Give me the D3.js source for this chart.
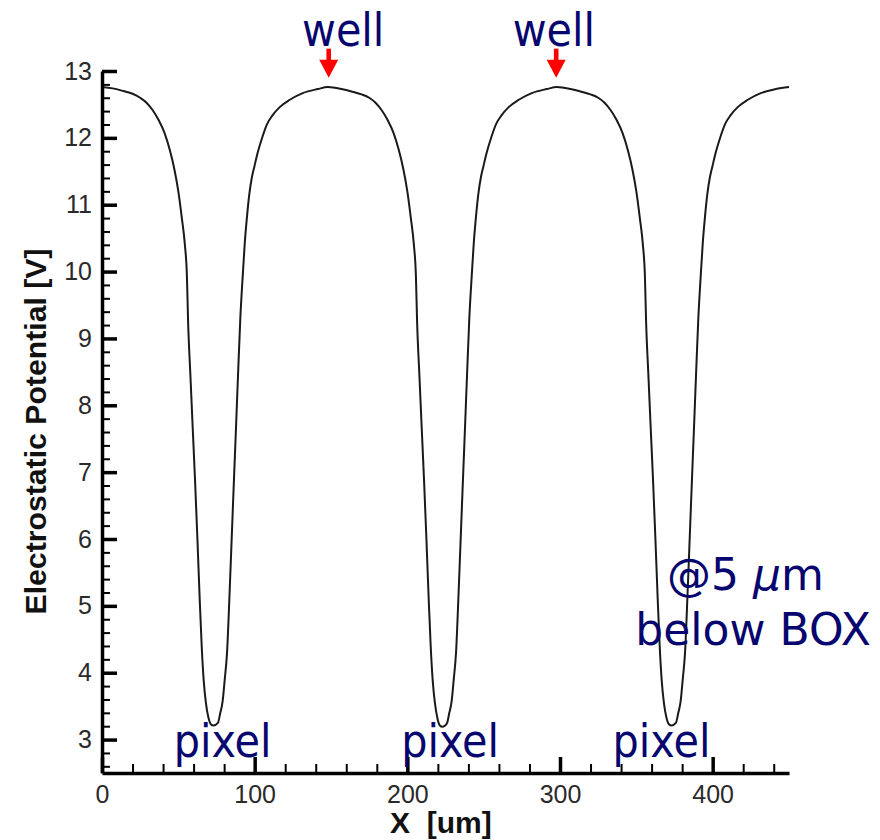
<!DOCTYPE html>
<html>
<head>
<meta charset="utf-8">
<script src="https://cdn.jsdelivr.net/npm/d3@7"></script>
<style>
  html, body { margin: 0; padding: 0; background: #fff; }
  svg { display: block; }
</style>
</head>
<body>
<div id="chart"></div>
<script>
// ---- data ----
const xValues = [
  // first pixel valley and well
  0, 7, 14, 20, 25, 29, 33, 37, 41, 44.5, 47.5, 50, 52.3, 54.3, 55.6, 56.4, 57.9, 59.4, 61, 62.5, 64, 65.3, 66.6, 68.1, 69.7, 71.3, 73,
  75.9, 77.5, 79, 80.4, 81.9, 83.5, 84.8, 86.2, 87.8, 89.1, 90.6, 92.3, 93.5, 95, 96.5, 98.1, 99.9, 102, 105, 108.2, 111.8, 116.4, 123, 131.5, 141.3, 148,
  // second
  157, 164, 170, 175, 179, 183, 187, 191, 194.5, 197.5, 200, 202.3, 204.3, 205.6, 206.4, 207.9, 209.4, 211, 212.5, 214, 215.3, 216.6, 218.1, 219.7, 221.3, 223,
  225.9, 227.5, 229, 230.4, 231.9, 233.5, 234.8, 236.2, 237.8, 239.1, 240.6, 242.3, 243.5, 245, 246.5, 248.1, 249.9, 252, 255, 258.2, 261.8, 266.4, 273, 281.5, 291.3, 298,
  // third
  307, 314, 320, 325, 329, 333, 337, 341, 344.5, 347.5, 350, 352.3, 354.3, 355.6, 356.4, 357.9, 359.4, 361, 362.5, 364, 365.3, 366.6, 368.1, 369.7, 371.3, 373,
  375.9, 377.5, 379, 380.4, 381.9, 383.5, 384.8, 386.2, 387.8, 389.1, 390.6, 392.3, 393.5, 395, 396.5, 398.1, 399.9, 402, 405, 408.2, 411.8, 416.4, 423, 431.5, 441.3, 450
];
const potential = [
  12.76, 12.74, 12.70, 12.66, 12.60, 12.53, 12.42, 12.27, 12.07, 11.81, 11.52, 11.20, 10.80, 10.40, 9.95, 9.25, 8.45, 7.67, 6.85, 6.00, 5.10, 4.40, 3.89, 3.54, 3.33, 3.23, 3.21,
  3.25, 3.40, 3.57, 3.90, 4.30, 5.15, 5.92, 6.75, 7.68, 8.45, 9.30, 9.98, 10.42, 10.83, 11.16, 11.40, 11.58, 11.78, 12.01, 12.21, 12.34, 12.46, 12.57, 12.67, 12.73, 12.76,
  12.73, 12.69, 12.65, 12.60, 12.53, 12.42, 12.27, 12.07, 11.81, 11.52, 11.20, 10.80, 10.40, 9.95, 9.25, 8.45, 7.67, 6.85, 6.00, 5.10, 4.40, 3.89, 3.54, 3.32, 3.21, 3.19,
  3.24, 3.40, 3.57, 3.90, 4.30, 5.15, 5.92, 6.75, 7.68, 8.45, 9.30, 9.98, 10.42, 10.83, 11.16, 11.40, 11.58, 11.78, 12.01, 12.21, 12.34, 12.46, 12.57, 12.67, 12.73, 12.76,
  12.73, 12.69, 12.65, 12.60, 12.53, 12.42, 12.27, 12.07, 11.81, 11.52, 11.20, 10.80, 10.40, 9.95, 9.25, 8.45, 7.67, 6.85, 6.00, 5.10, 4.40, 3.89, 3.54, 3.33, 3.23, 3.21,
  3.25, 3.40, 3.57, 3.90, 4.30, 5.15, 5.92, 6.75, 7.68, 8.45, 9.30, 9.98, 10.42, 10.83, 11.16, 11.40, 11.58, 11.78, 12.01, 12.21, 12.34, 12.46, 12.57, 12.67, 12.73, 12.76
];
const xTickValues = [0, 100, 200, 300, 400];
const yTickValues = [3, 4, 5, 6, 7, 8, 9, 10, 11, 12, 13];
const xAxisTitle = "X  [um]";
const yAxisTitle = "Electrostatic Potential [V]";

// annotations (data coordinates)
const wellArrowX = [148.5, 297.5];
const wellTextX = [158, 296];
const pixelTextX = [79, 228, 366.5];
const noteX = [421.5, 426.5];
const noteY = [5.24, 4.41];

// ---- layout ----
const W = 880, H = 840;
const svg = d3.select("#chart").append("svg").attr("width", W).attr("height", H);

const x = d3.scaleLinear().domain([0, 450]).range([102, 789]);
const y = d3.scaleLinear().domain([2.5, 13]).range([773, 71]);

const textBlue = "#06066e";
const labelFont = "'DejaVu Sans Condensed', 'DejaVu Sans', sans-serif";

// line
const line = d3.line().x((d, i) => x(xValues[i])).y(d => y(d)).curve(d3.curveMonotoneX);
svg.append("path")
  .datum(potential)
  .attr("d", line)
  .attr("fill", "none")
  .attr("stroke", "#1a1a1a")
  .attr("stroke-width", 2);

// minor ticks
const xMinor = d3.range(20, 450, 20).filter(v => v % 100 !== 0);
const yMinor = d3.range(26, 130, 2).map(v => v / 10).filter(v => Math.abs(v - Math.round(v)) > 1e-6);

const gxMinor = svg.append("g").attr("transform", `translate(0,${y(2.5)})`)
  .call(d3.axisBottom(x).tickValues(xMinor).tickSizeInner(-9).tickSizeOuter(0).tickFormat(""));
gxMinor.select(".domain").remove();
gxMinor.selectAll(".tick line").attr("stroke", "#000").attr("stroke-width", 2);

const gyMinor = svg.append("g").attr("transform", `translate(${x(0)},0)`)
  .call(d3.axisLeft(y).tickValues(yMinor).tickSizeInner(-8).tickSizeOuter(0).tickFormat(""));
gyMinor.select(".domain").remove();
gyMinor.selectAll(".tick line").attr("stroke", "#000").attr("stroke-width", 2);

// major axes
const gx = svg.append("g").attr("transform", `translate(0,${y(2.5)})`)
  .call(d3.axisBottom(x).tickValues(xTickValues).tickSizeInner(-16).tickSizeOuter(0).tickPadding(12).tickFormat(d3.format("d")));
gx.select(".domain").attr("stroke", "#000").attr("stroke-width", 3.5);
gx.selectAll(".tick line").attr("stroke", "#000").attr("stroke-width", 3.5);
gx.selectAll(".tick text")
  .attr("font-family", "'Liberation Sans', Arial, sans-serif")
  .attr("font-size", 25).attr("fill", "#2a2a2a").attr("dy", "0.71em");

const gy = svg.append("g").attr("transform", `translate(${x(0)},0)`)
  .call(d3.axisLeft(y).tickValues(yTickValues).tickSizeInner(-15).tickSizeOuter(0).tickPadding(10).tickFormat(d3.format("d")));
gy.select(".domain").attr("stroke", "#000").attr("stroke-width", 3.5);
gy.selectAll(".tick line").attr("stroke", "#000").attr("stroke-width", 3.5);
gy.selectAll(".tick text")
  .attr("font-family", "'Liberation Sans', Arial, sans-serif")
  .attr("font-size", 25).attr("fill", "#2a2a2a");

// axis titles
svg.append("text")
  .attr("x", 390).attr("y", 833)
  .attr("font-family", "'Liberation Sans', Arial, sans-serif")
  .attr("font-weight", "bold").attr("font-size", 30)
  .style("white-space", "pre")
  .attr("fill", "#111")
  .text(xAxisTitle);

svg.append("text")
  .attr("transform", `translate(46,${(615 + 248) / 2}) rotate(-90)`)
  .attr("text-anchor", "middle")
  .attr("font-family", "'Liberation Sans', Arial, sans-serif")
  .attr("font-weight", "bold").attr("font-size", 30)
  .attr("textLength", 366).attr("lengthAdjust", "spacingAndGlyphs")
  .attr("fill", "#111")
  .text(yAxisTitle);

// well labels and arrows
svg.selectAll("text.well").data(wellTextX).enter().append("text")
  .attr("class", "well")
  .attr("x", d => x(d)).attr("y", y(13.38))
  .attr("text-anchor", "middle")
  .attr("font-family", labelFont).attr("font-size", 46)
  .attr("fill", textBlue)
  .text("well");

wellArrowX.forEach(d => {
  const cx = x(d), tip = y(12.9);
  svg.append("rect")
    .attr("x", cx - 2.3).attr("y", tip - 29).attr("width", 4.6).attr("height", 13)
    .attr("fill", "#ff0000");
  svg.append("path")
    .attr("d", `M${cx - 9.5},${tip - 18} L${cx + 9.5},${tip - 18} L${cx},${tip} Z`)
    .attr("fill", "#ff0000");
});

// pixel labels
svg.selectAll("text.pixel").data(pixelTextX).enter().append("text")
  .attr("class", "pixel")
  .attr("x", d => x(d)).attr("y", y(2.74))
  .attr("text-anchor", "middle")
  .attr("font-family", labelFont).attr("font-size", 46)
  .attr("fill", textBlue)
  .text("pixel");

// note
const note1 = svg.append("text")
  .attr("x", x(noteX[0])).attr("y", y(noteY[0]))
  .attr("text-anchor", "middle")
  .attr("font-family", "'DejaVu Sans', sans-serif").attr("font-size", 44)
  .attr("fill", textBlue);
note1.append("tspan").text("@5 ");
note1.append("tspan").attr("font-style", "italic").text("μ");
note1.append("tspan").text("m");

svg.append("text")
  .attr("x", x(noteX[1])).attr("y", y(noteY[1]))
  .attr("text-anchor", "middle")
  .attr("font-family", "'DejaVu Sans', sans-serif").attr("font-size", 44)
  .attr("fill", textBlue)
  .text("below BOX");
</script>
</body>
</html>
